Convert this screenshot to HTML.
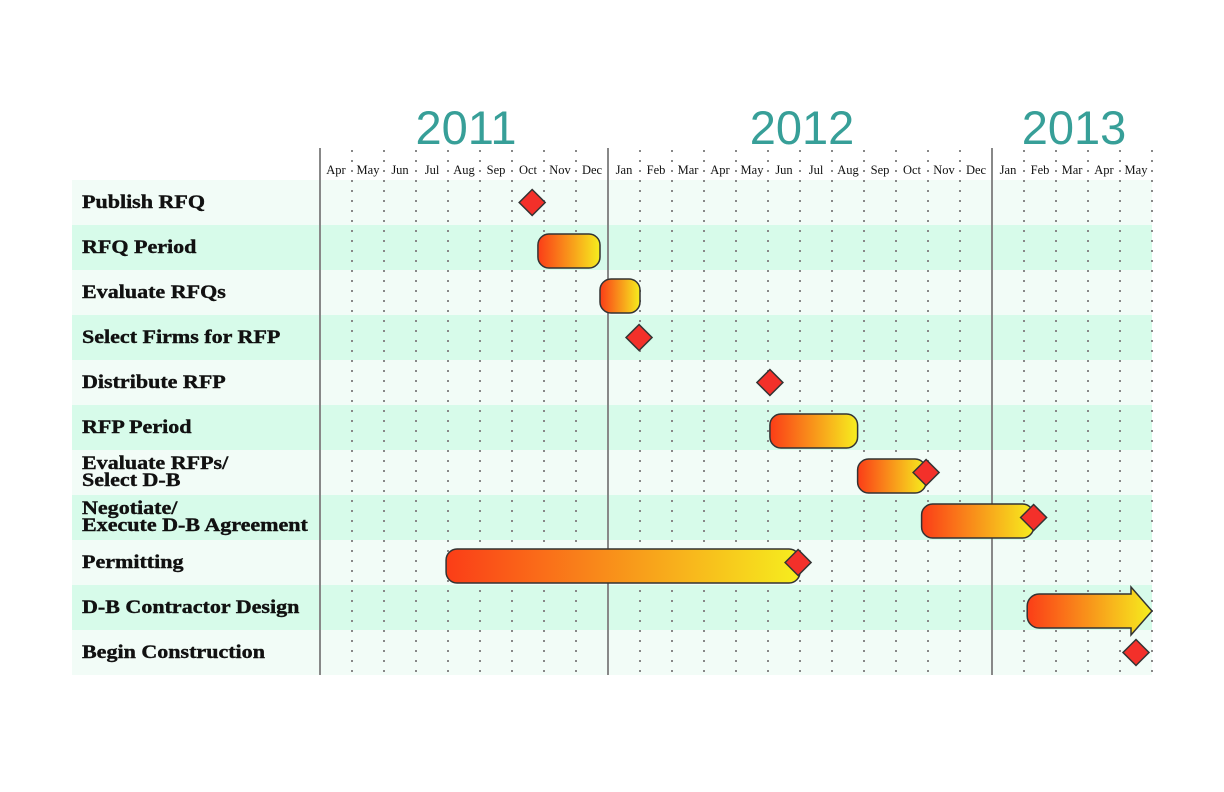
<!DOCTYPE html>
<html><head><meta charset="utf-8"><style>
body{margin:0;background:#fff}
svg{display:block}
</style></head><body>
<svg id="c" width="1224" height="792" xmlns="http://www.w3.org/2000/svg">
<defs><linearGradient id="g" x1="0" x2="1" y1="0" y2="0"><stop offset="0" stop-color="#fb3d17"/><stop offset="1" stop-color="#f6ee1e"/></linearGradient></defs>
</svg>
<script>
const tasks=["Publish RFQ","RFQ Period","Evaluate RFQs","Select Firms for RFP","Distribute RFP","RFP Period","Evaluate RFPs/|Select D-B","Negotiate/|Execute D-B Agreement","Permitting","D-B Contractor Design","Begin Construction"];
const barStart=[null,6.81,8.75,null,null,14.06,16.8,18.8,3.94,22.1,null];
const barEnd=[null,8.75,10,null,null,16.8,18.94,22.3,15,26,null];
const milestone=[6.63,null,null,9.97,14.06,null,18.94,22.3,14.94,null,25.5];
const months=["Apr","May","Jun","Jul","Aug","Sep","Oct","Nov","Dec","Jan","Feb","Mar","Apr","May","Jun","Jul","Aug","Sep","Oct","Nov","Dec","Jan","Feb","Mar","Apr","May"];
const years=["2011","2012","2013"];
const yearCenter=[4.5,15,23.5];
const yearDivs=[0,9,21];
const svg=document.getElementById('c');const NS='http://www.w3.org/2000/svg';
const X0=320,MW=32,Y0=180,RH=45;
const x=m=>X0+m*MW, y=i=>Y0+i*RH;
function el(t,a,p){const e=document.createElementNS(NS,t);for(const k in a)e.setAttribute(k,a[k]);(p||svg).appendChild(e);return e;}
tasks.forEach((t,i)=>{
 const r=el('rect',{x:72,y:y(i),width:x(months.length)-72,height:RH,fill:i%2?'#d7fbea':'#f2fcf7'});
 
 
});
for(let m=1;m<=months.length;m++){
 const l=el('line',{x1:x(m),x2:x(m),y1:150,y2:675,stroke:'#888','stroke-width':2,'stroke-dasharray':'2 8'});
 
 
}
tasks.forEach((t,i)=>{
 const tx=el('text',{x:82,y:y(i)+28,'font-family':'Liberation Serif, serif','font-weight':'bold','font-size':19,fill:'#111',stroke:'#111','stroke-width':0.4,transform:'translate(82 0) scale(1.16 1) translate(-82 0)'});
 
 
 const parts=t.split('|');
 if(parts.length>1){parts.forEach((p,j)=>{const s=el('tspan',{x:82,y:y(i)+19+j*17},tx);s.textContent=p;});}else tx.textContent=t;
});
yearDivs.forEach(m=>{const l=el('line',{x1:x(m),x2:x(m),y1:148,y2:675,stroke:'#888','stroke-width':2});
 
 });
months.forEach((mn,m)=>{const t=el('text',{x:x(m+0.5),y:174,'text-anchor':'middle','font-family':'Liberation Serif, serif','font-size':12.5,fill:'#111'});t.textContent=mn;
 
 });
years.forEach((yr,k)=>{const t=el('text',{x:x(yearCenter[k])+2,y:144,'text-anchor':'middle','font-family':'Liberation Sans, sans-serif','font-size':47,fill:'#379f98'});t.textContent=yr;
 
 });
tasks.forEach((t,i)=>{
 if(barStart[i]!=null){
  const a=x(barStart[i]),b=x(barEnd[i]),top=y(i)+9,h=34;
  let e;
  if(i===9){const hx=b-21,cy=top+h/2;
   e=el('path',{d:`M${a+12},${top}H${hx}V${top-7}L${b},${cy}L${hx},${top+h+7}V${top+h}H${a+12}A12 12 0 0 1 ${a} ${top+h-12}V${top+12}A12 12 0 0 1 ${a+12} ${top}Z`,fill:'url(#g)',stroke:'#333','stroke-width':1.5});
   
  } else {
   e=el('rect',{x:a,y:top,width:b-a,height:h,rx:11,fill:'url(#g)',stroke:'#333','stroke-width':1.5});
   
  }
  
 }
 if(milestone[i]!=null){
  const cx=x(milestone[i]),cy=y(i)+22.5,s=13;
  const d=el('path',{d:`M${cx},${cy-s}L${cx+s},${cy}L${cx},${cy+s}L${cx-s},${cy}Z`,fill:'#f3302a',stroke:'#333','stroke-width':1.5});
  
  
 }
});
</script>
</body></html>
